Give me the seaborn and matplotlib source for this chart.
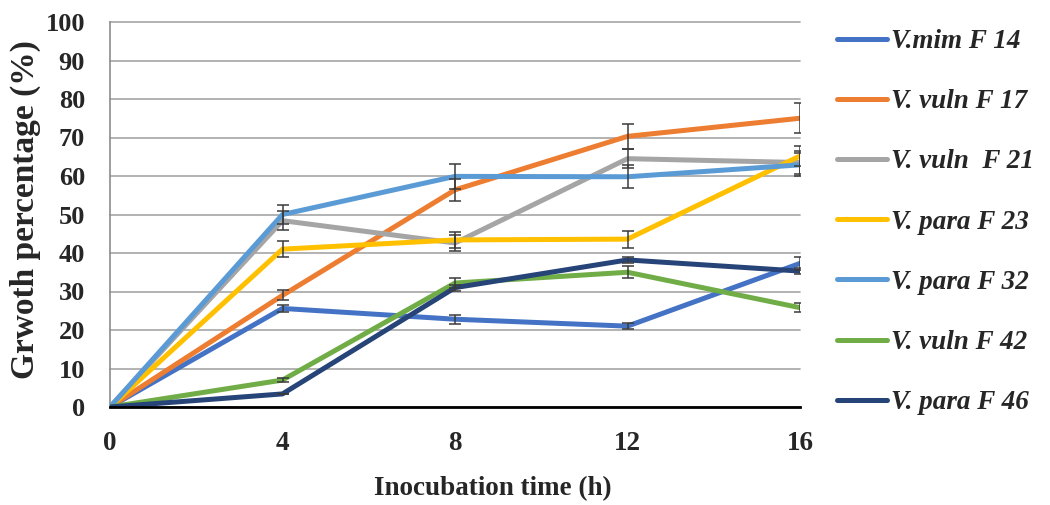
import numpy as np
import pandas as pd
import matplotlib
matplotlib.use("Agg")
import matplotlib.pyplot as plt
import seaborn as sns

# Incubation time points (h)
time_h = [0, 4, 8, 12, 16]

# Strain labels as shown in the legend
strains = ["V.mim F 14", "V. vuln F 17", "V. vuln  F 21", "V. para F 23",
           "V. para F 32", "V. vuln F 42", "V. para F 46"]

# Mean growth percentage (%) per strain
f14 = [0, 25.6, 22.8, 21.0, 37.3]
f17 = [0, 29.0, 56.4, 70.3, 75.0]
f21 = [0, 48.4, 42.6, 64.5, 63.5]
f23 = [0, 41.0, 43.4, 43.6, 65.2]
f32 = [0, 50.0, 59.9, 59.8, 62.9]
f42 = [0, 7.0, 32.2, 35.0, 25.8]
f46 = [0, 3.4, 31.0, 38.2, 35.3]

# Standard deviations
f14_sd = [0, 1.0, 1.2, 0.8, 1.7]
f17_sd = [0, 1.3, 2.8, 3.3, 3.9]
f21_sd = [0, 2.5, 2.0, 2.5, 3.0]
f23_sd = [0, 2.0, 2.0, 2.2, 2.5]
f32_sd = [0, 2.5, 3.3, 3.0, 3.0]
f42_sd = [0, 0.6, 1.3, 1.6, 1.2]
f46_sd = [0, 0.0, 0.8, 0.8, 0.8]

means = [f14, f17, f21, f23, f32, f42, f46]
sds = [f14_sd, f17_sd, f21_sd, f23_sd, f32_sd, f42_sd, f46_sd]

colors = ["#4472C4", "#ED7D31", "#A5A5A5", "#FFC000",
          "#5B9BD5", "#70AD47", "#264478"]

rows = []
for name, m, s in zip(strains, means, sds):
    for t, v, e in zip(time_h, m, s):
        rows.append({"time": t, "growth": v, "sd": e, "strain": name})
df = pd.DataFrame(rows)

sns.set_style("white")
plt.rcParams["font.family"] = ["Liberation Serif", "DejaVu Serif"]
plt.rcParams["font.weight"] = "bold"

fig = plt.figure(figsize=(10.5, 5.05), dpi=100)
ax = fig.add_axes([110 / 1050, 1 - 407 / 505, 690 / 1050, 385 / 505])

sns.lineplot(data=df, x="time", y="growth", hue="strain", hue_order=strains,
             palette=dict(zip(strains, colors)), linewidth=3.6, ax=ax,
             legend=False, zorder=3)

for name in strains:
    sub = df[df["strain"] == name]
    ax.errorbar(sub["time"], sub["growth"], yerr=sub["sd"], fmt="none",
                ecolor="#3A3A3A", elinewidth=1.1, capsize=4.5, capthick=1.1,
                zorder=4)

ax.set_xlim(0, 16)
ax.set_ylim(0, 100)
ax.set_xticks(time_h)
ax.set_yticks(np.arange(0, 101, 10))
ax.yaxis.grid(True, color="#A6A6A6", linewidth=1.2)
ax.xaxis.grid(False)
for gl in ax.get_ygridlines():
    gl.set_clip_on(False)
ax.set_axisbelow(True)

ax.spines["top"].set_visible(False)
ax.spines["right"].set_visible(False)
ax.spines["left"].set_color("#8C8C8C")
ax.spines["left"].set_linewidth(1.2)
ax.spines["bottom"].set_color("black")
ax.spines["bottom"].set_linewidth(2.0)
ax.spines["bottom"].set_zorder(5)

ax.tick_params(axis="x", length=0, pad=17, labelsize=19.5)
ax.tick_params(axis="y", length=0, pad=18, labelsize=19)
for lab in ax.get_xticklabels() + ax.get_yticklabels():
    lab.set_fontweight("bold")

ax.set_xlabel("Inocubation time (h)", fontsize=19.5, fontweight="bold")
ax.set_ylabel("Grwoth percentage (%)", fontsize=24, fontweight="bold")
ax.xaxis.set_label_coords((493 - 110) / 690, -(489 - 407) / 385)
ax.yaxis.set_label_coords(-(110 - 25) / 690, (407 - 210) / 385)
ax.xaxis.label.set_va("center")
ax.yaxis.label.set_va("center")

handles = [plt.Line2D([], [], color=c, linewidth=3.6, solid_capstyle="round")
           for c in colors]
fig.legend(handles, strains, loc="upper left",
           bbox_to_anchor=(837 / 1050, 1 - 29 / 505), frameon=False,
           borderpad=0, borderaxespad=0, handlelength=1.85,
           handletextpad=0.15, labelspacing=1.3,
           prop={"family": "Liberation Serif", "weight": "bold",
                 "style": "italic", "size": 19.5})

fig.savefig("out.png", dpi=100)
